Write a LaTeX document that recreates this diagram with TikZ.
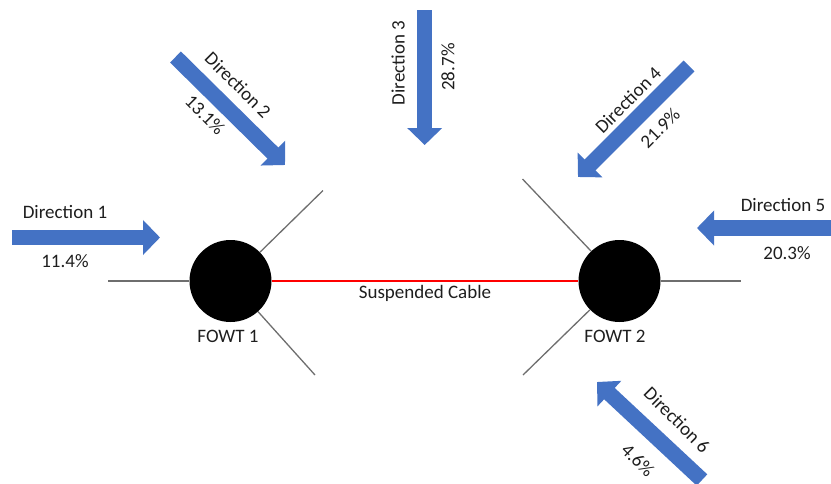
\documentclass[tikz,border=0pt]{standalone}
\usepackage{fontspec}
\setmainfont{Carlito}
\usetikzlibrary{arrows.meta}
\definecolor{dirblue}{RGB}{68,114,196}
\definecolor{moor}{RGB}{110,110,110}
\definecolor{txt}{RGB}{30,30,30}
\begin{document}
\begin{tikzpicture}[x=1pt,y=-1pt,
  every node/.style={font=\fontsize{19}{22}\selectfont, text=txt, inner sep=0pt},
  dirarrow/.style={draw=dirblue, line width=15.5pt, -{Triangle[width=34pt,length=17pt]}},
  mooring/.style={draw=moor, line width=1.3pt},
  cable/.style={draw=red, line width=1.5pt},
  turbine/.style={circle, fill=black, minimum size=82pt, inner sep=0pt}]
\useasboundingbox (0,0) rectangle (831,483);
% turbines
\node[turbine] (fowt1) at (230.5,281) {};
\node[turbine] (fowt2) at (619.5,281) {};
\node (lab1) at (228,336) {FOWT 1};
\node (lab2) at (615,336) {FOWT 2};
% mooring end points
\coordinate (m1l) at (108,281);
\coordinate (m1u) at (323,190.5);
\coordinate (m1d) at (315,375);
\coordinate (m2r) at (741,281);
\coordinate (m2u) at (522.5,179);
\coordinate (m2d) at (523,375);
\draw[mooring] (fowt1) -- (m1l);
\draw[mooring] (fowt1) -- (m1u);
\draw[mooring] (fowt1) -- (m1d);
\draw[mooring] (fowt2) -- (m2r);
\draw[mooring] (fowt2) -- (m2u);
\draw[mooring] (fowt2) -- (m2d);
% cable
\draw[cable] (fowt1) -- (fowt2);
\node (cab) at (425,293) {Suspended Cable};
% direction arrows
\coordinate (d1s) at (12,237.5);  \coordinate (d1e) at (160,237.5);
\coordinate (d2s) at (175.5,57);  \coordinate (d2e) at (285,165);
\coordinate (d3s) at (424.7,10);  \coordinate (d3e) at (424.7,145);
\coordinate (d4s) at (689,66);    \coordinate (d4e) at (578,177);
\coordinate (d5s) at (831,228);   \coordinate (d5e) at (697,228);
\coordinate (d6s) at (702,480);   \coordinate (d6e) at (597,382);
\draw[dirarrow] (d1s) -- (d1e);
\draw[dirarrow] (d2s) -- (d2e);
\draw[dirarrow] (d3s) -- (d3e);
\draw[dirarrow] (d4s) -- (d4e);
\draw[dirarrow] (d5s) -- (d5e);
\draw[dirarrow] (d6s) -- (d6e);
% labels
\node (t1) at (65,212) {Direction 1};
\node (p1) at (65,261) {11.4\%};
\node[rotate=-45] (t2) at (238,85) {Direction 2};
\node[rotate=-45] (p2) at (205,115) {13.1\%};
\node[rotate=90] (t3) at (398,63) {Direction 3};
\node[rotate=90] (p3) at (448,67) {28.7\%};
\node[rotate=45] (t4) at (628,100) {Direction 4};
\node[rotate=45] (p4) at (660,128) {21.9\%};
\node (t5) at (783,205) {Direction 5};
\node (p5) at (787,253) {20.3\%};
\node[rotate=-45] (t6) at (677,420) {Direction 6};
\node[rotate=-45] (p6) at (638,460) {4.6\%};
\end{tikzpicture}
\end{document}
